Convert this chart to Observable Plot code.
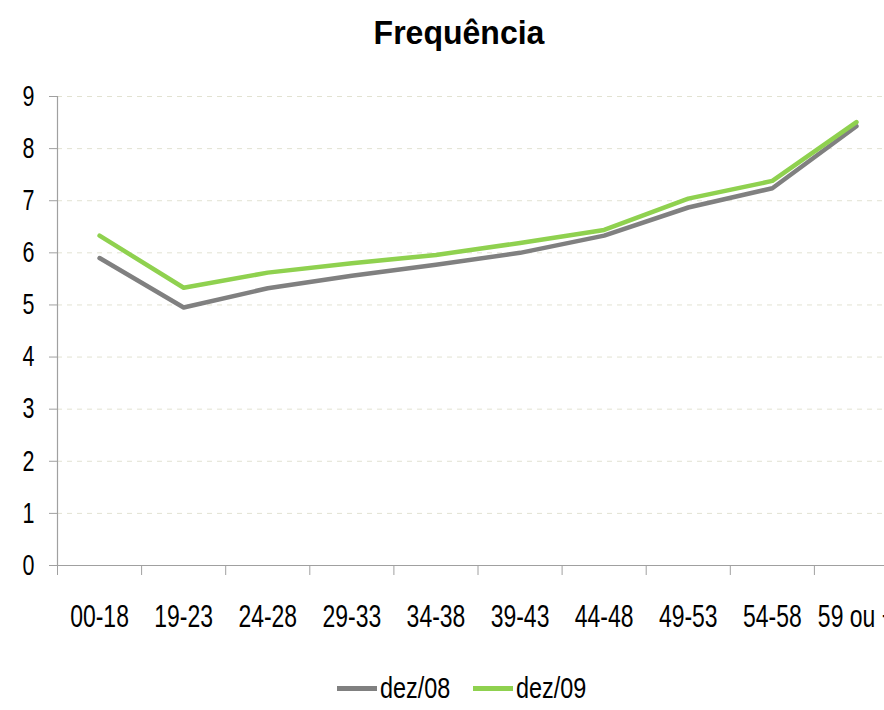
<!DOCTYPE html>
<html>
<head>
<meta charset="utf-8">
<script src="https://cdn.jsdelivr.net/npm/d3@7"></script>
<script src="https://cdn.jsdelivr.net/npm/@observablehq/plot@0.6"></script>
<style>
  html, body { margin: 0; padding: 0; background: #fff; overflow: hidden; width: 884px; height: 710px; }
  #title { position: relative; height: 66px; width: 884px; font-family: "Liberation Sans", Arial, sans-serif; font-weight: bold; font-size: 33px; color: #000; }
  #title span { position: absolute; left: 459px; top: 33px; transform: translate(-50%, -50%) scaleX(0.97); white-space: nowrap; }
  #chart svg { display: block; overflow: hidden; }
  #legend { position: relative; height: 44px; width: 884px; font-family: "Liberation Sans", Arial, sans-serif; font-size: 30px; color: #000; }
  .item { position: absolute; top: 22px; transform: translateY(-50%); display: flex; align-items: center; white-space: nowrap; }
  .sw { width: 40px; height: 5px; margin-right: 3px; }
  .lt { display: inline-block; transform: scaleX(0.78); transform-origin: left center; }
</style>
</head>
<body>
<div id="title"><span>Frequência</span></div>
<div id="chart"></div>
<div id="legend"></div>
<script>
const categories = ["00-18", "19-23", "24-28", "29-33", "34-38", "39-43", "44-48", "49-53", "54-58", "59 ou +"];
const seriesNames = ["dez/08", "dez/09"];
const dez08 = [5.90, 4.95, 5.32, 5.56, 5.77, 6.00, 6.33, 6.87, 7.24, 8.43];
const dez09 = [6.33, 5.33, 5.62, 5.80, 5.96, 6.19, 6.44, 7.04, 7.38, 8.51];
const yTicks = [0, 1, 2, 3, 4, 5, 6, 7, 8, 9];
const colors = ["#808080", "#8FD14F"];

const data = [];
seriesNames.forEach((s, k) => {
  const vals = k === 0 ? dez08 : dez09;
  categories.forEach((c, i) => data.push({series: s, idx: i, cat: c, value: vals[i]}));
});

const font = `"Liberation Sans", Arial, sans-serif`;
const boundaries = d3.range(0, categories.length + 1);
const centers = d3.range(categories.length).map(i => i + 0.5);

const chart = Plot.plot({
  width: 884,
  height: 600,
  marginLeft: 57,
  marginRight: 0,
  marginTop: 30,
  marginBottom: 101,
  style: {fontFamily: font, fontSize: "28px", color: "#000", background: "#fff"},
  x: {domain: [0, categories.length], range: [57, 898]},
  y: {domain: [0, 9]},
  color: {domain: seriesNames, range: colors},
  marks: [
    Plot.ruleY(yTicks.filter(d => d > 0), {stroke: "#e2e2d2", strokeDasharray: "5,5", strokeWidth: 1}),
    Plot.ruleX([0], {stroke: "#a0a0a0", strokeWidth: 1.2}),
    Plot.ruleY([0], {stroke: "#a0a0a0", strokeWidth: 1.2}),
    Plot.axisY({ticks: yTicks, tickSize: 8, tickPadding: 15, stroke: "#a0a0a0", fontSize: 29, tickFormat: d => String(d), label: null}),
    Plot.axisX({ticks: boundaries, tickSize: 10, tickFormat: () => "", stroke: "#a0a0a0", label: null}),
    Plot.axisX({ticks: centers, tickSize: 0, tickPadding: 39, fontSize: 31, tickFormat: v => categories[Math.floor(v)], label: null}),
    Plot.line(data, {x: d => d.idx + 0.5, y: "value", z: "series", stroke: "series", strokeWidth: 4.5, strokeLinejoin: "round"})
  ]
});
document.getElementById("chart").appendChild(chart);

// condense the axis texts horizontally (the original uses a narrow font)
d3.select(chart).selectAll("text").each(function() {
  const w = this.getComputedTextLength();
  if (w > 0) {
    this.setAttribute("textLength", (w * 0.74).toFixed(2));
    this.setAttribute("lengthAdjust", "spacingAndGlyphs");
  }
});

const legend = document.getElementById("legend");
const lefts = [337, 473];
seriesNames.forEach((s, k) => {
  const it = document.createElement("div");
  it.className = "item";
  it.style.left = lefts[k] + "px";
  const sw = document.createElement("div");
  sw.className = "sw";
  sw.style.background = colors[k];
  const tx = document.createElement("span");
  tx.className = "lt";
  tx.textContent = s;
  it.appendChild(sw);
  it.appendChild(tx);
  legend.appendChild(it);
});
</script>
</body>
</html>
